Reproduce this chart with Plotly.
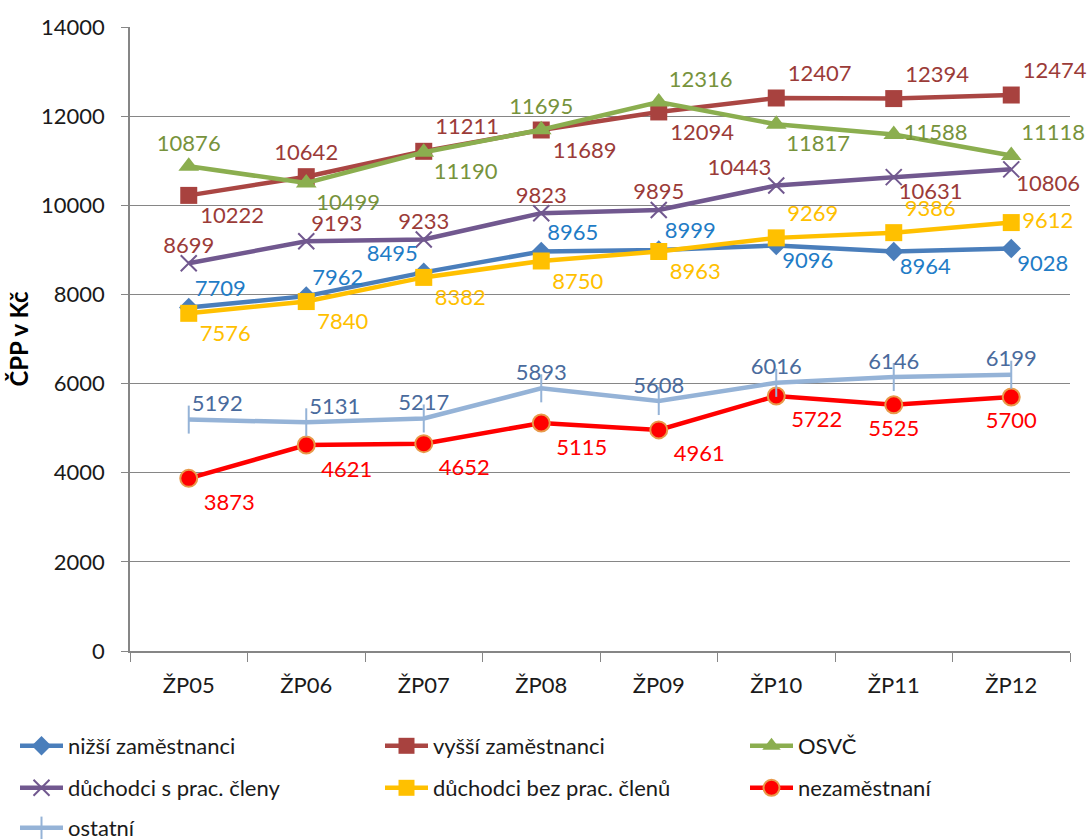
import plotly.graph_objects as go

categories = ["ŽP05", "ŽP06", "ŽP07", "ŽP08", "ŽP09", "ŽP10", "ŽP11", "ŽP12"]

nizsi = [7709, 7962, 8495, 8965, 8999, 9096, 8964, 9028]
vyssi = [10222, 10642, 11211, 11689, 12094, 12407, 12394, 12474]
osvc = [10876, 10499, 11190, 11695, 12316, 11817, 11588, 11118]
duch_s = [8699, 9193, 9233, 9823, 9895, 10443, 10631, 10806]
duch_bez = [7576, 7840, 8382, 8750, 8963, 9269, 9386, 9612]
nezam = [3873, 4621, 4652, 5115, 4961, 5722, 5525, 5700]
ostatni = [5192, 5131, 5217, 5893, 5608, 6016, 6146, 6199]

FONT = "Lato"
TR, TC, TL, MR, BR, BC = "top right", "top center", "top left", "middle right", "bottom right", "bottom center"

# lgap: distance of the data label from its point (styling only)
series = [
    dict(name="nižší zaměstnanci", y=nizsi, line="#4A7EBB", tcol="#1F7CC6",
         marker=dict(symbol="diamond", size=15, color="#4A7EBB"), lgap=6,
         pos=[TR, TR, TL, TR, TR, BR, BR, BR], col=0, row=0),
    dict(name="vyšší zaměstnanci", y=vyssi, line="#AA4643", tcol="#9B3B38",
         marker=dict(symbol="square", size=17, color="#A8423F"), lgap=11.5,
         pos=[BR, TC, TR, BR, BR, TR, TR, TR], col=1, row=0),
    dict(name="OSVČ", y=osvc, line="#8BAE4F", tcol="#77933C",
         marker=dict(symbol="triangle-up", size=18, color="#8BAE4F"), lgap=10,
         pos=[TC, BR, BR, TC, TR, BR, MR, TR], col=2, row=0),
    dict(name="důchodci s prac. členy", y=duch_s, line="#71588F", tcol="#9B3B38",
         marker=dict(symbol="x-thin-open", size=16, color="#71588F", line=dict(width=2, color="#71588F")),
         lgap=5, pos=[TC, TR, TC, TC, TC, TL, BR, BR], col=0, row=1),
    dict(name="důchodci bez prac. členů", y=duch_bez, line="#FFC000", tcol="#FFC000",
         marker=dict(symbol="square", size=17, color="#FFC000"), lgap=11,
         pos=[BR, BR, BR, BR, BR, TR, TR, MR], col=1, row=1),
    dict(name="nezaměstnaní", y=nezam, line="#FF0000", tcol="#FF0000",
         marker=dict(symbol="circle", size=17, color="#FF0000", line=dict(width=2, color="#E89A4A")),
         lgap=15, pos=[BR, BR, BR, BR, BR, BR, BC, BC], col=2, row=1),
    dict(name="ostatní", y=ostatni, line="#95B3D7", tcol="#4A6B9D",
         marker=dict(symbol="line-ns-open", size=20, color="#95B3D7", line=dict(width=2, color="#95B3D7")),
         lgap=3, pos=[TR, TR, TC, TC, TC, TC, TC, TC], col=0, row=2),
]

W, HT = 1089, 839
PLOT_TOP, PLOT_BOTTOM = 27, 651
LEG_X = [15, 380, 745]
LEG_Y = [746, 788, 828]

fig = go.Figure()
legends = {}
for i, s in enumerate(series):
    lname = "legend" if i == 0 else f"legend{i + 1}"
    fig.add_trace(go.Scatter(
        x=categories, y=s["y"], name=s["name"], mode="lines+markers",
        line=dict(color=s["line"], width=4.5),
        marker=s["marker"], legend=lname, cliponaxis=False,
    ))
    legends[lname] = dict(orientation="h", xanchor="left", yanchor="middle",
                          xref="container", yref="container",
                          x=LEG_X[s["col"]] / W, y=(HT - LEG_Y[s["row"]]) / HT,
                          font=dict(family=FONT, size=22, color="#1A1A1A"),
                          itemwidth=43, bgcolor="rgba(0,0,0,0)")

# data labels, drawn above all lines
for s in series:
    fig.add_trace(go.Scatter(
        x=categories, y=s["y"], mode="markers+text", showlegend=False, hoverinfo="skip",
        text=[str(v) for v in s["y"]], textposition=s["pos"],
        textfont=dict(family=FONT, size=22, color=s["tcol"]),
        marker=dict(size=1.6 * (s["lgap"] - 1), color="rgba(0,0,0,0)"),
        cliponaxis=False,
    ))

fig.update_layout(
    width=W, height=HT,
    margin=dict(l=130, r=19, t=PLOT_TOP, b=HT - PLOT_BOTTOM, autoexpand=False),
    paper_bgcolor="white", plot_bgcolor="white",
    font=dict(family=FONT, size=22, color="#1A1A1A"),
    showlegend=True,
    **legends,
    xaxis=dict(type="category", range=[-0.5, 7.5], showgrid=False,
               showline=True, linecolor="#868686", linewidth=1.5,
               ticks="outside", tickson="boundaries", ticklen=9, tickcolor="#868686",
               ticklabelstandoff=14,
               tickfont=dict(family=FONT, size=22, color="#1A1A1A")),
    yaxis=dict(range=[0, 14000], dtick=2000, tick0=0, showgrid=True,
               gridcolor="#868686", gridwidth=1, zeroline=False,
               showline=True, linecolor="#868686", linewidth=1.5,
               ticks="outside", ticklen=7, tickcolor="#868686",
               ticklabelstandoff=12, tickformat="d",
               tickfont=dict(family=FONT, size=22, color="#1A1A1A")),
)
fig.update_yaxes(title=dict(text="<b>ČPP v Kč</b>", standoff=6,
                            font=dict(family=FONT, size=24, color="#000000")))

fig.write_html("out.html", config={"displayModeBar": False},
               post_script="document.body.style.margin='0px';")
